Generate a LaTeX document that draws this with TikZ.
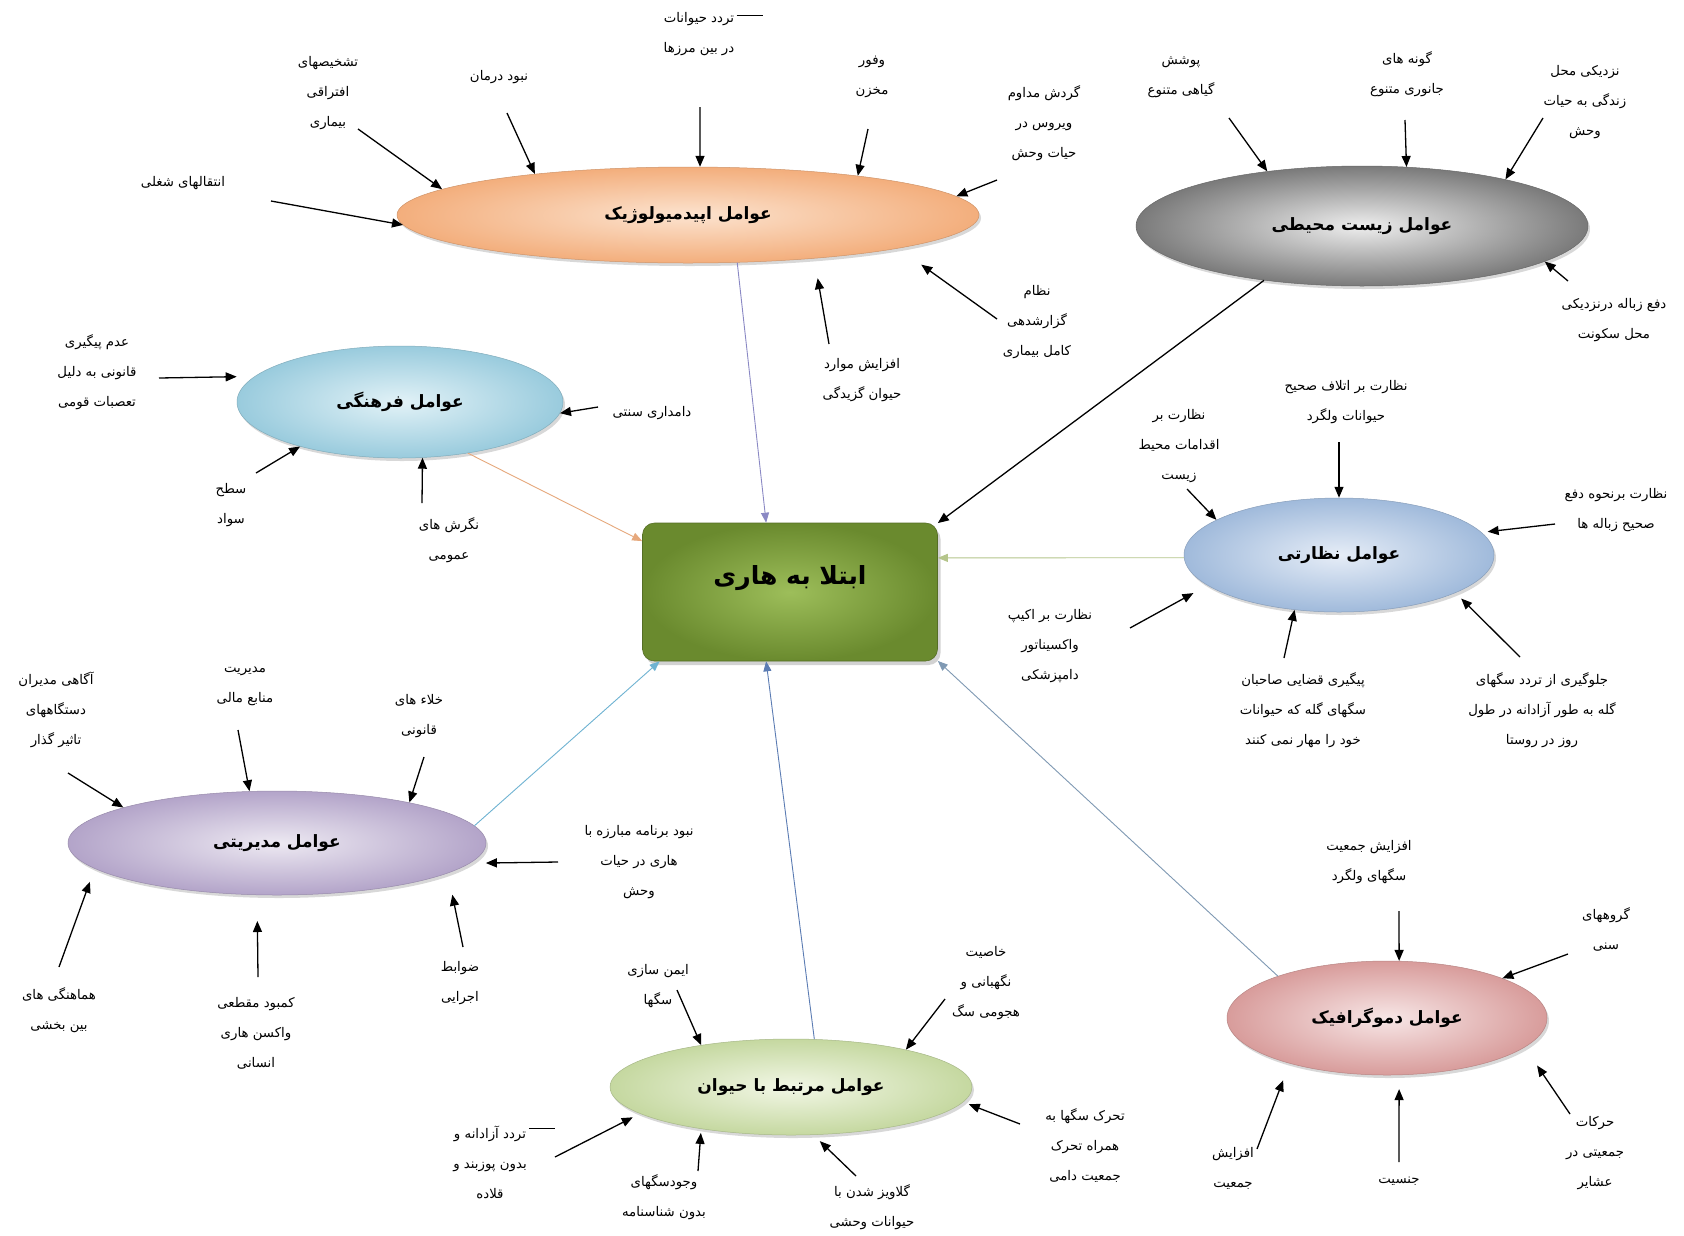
\documentclass[tikz,border=0pt]{standalone}
\usepackage{fontspec}
\usetikzlibrary{shapes.geometric,arrows.meta,shadows}
\newfontfamily\farsi[Script=Arabic]{DejaVu Sans}
\TeXXeTstate=1
\newcommand\fl[1]{\beginR #1\endR}
\definecolor{epiI}{HTML}{FCE3CF}\definecolor{epiO}{HTML}{F3AE7C}
\definecolor{envI}{HTML}{EEEEEE}\definecolor{envO}{HTML}{7A7A7A}
\definecolor{culI}{HTML}{E2F2F7}\definecolor{culO}{HTML}{99CBDD}
\definecolor{supI}{HTML}{E6EDF7}\definecolor{supO}{HTML}{A0BADB}
\definecolor{mgtI}{HTML}{EDE9F2}\definecolor{mgtO}{HTML}{B3A4C9}
\definecolor{aniI}{HTML}{F2F7E6}\definecolor{aniO}{HTML}{C5D8A0}
\definecolor{demI}{HTML}{F7E6E6}\definecolor{demO}{HTML}{D89C9B}
\definecolor{hubI}{HTML}{9DBE5A}\definecolor{hubO}{HTML}{6A8A2E}
\definecolor{lkEpi}{HTML}{8A88C4}\definecolor{lkCul}{HTML}{E6A87C}
\definecolor{lkSup}{HTML}{B5C58B}\definecolor{lkMgt}{HTML}{6FB3D2}
\definecolor{lkAni}{HTML}{5B7CB3}\definecolor{lkDem}{HTML}{7F99B3}
\begin{document}
\begin{tikzpicture}[x=1pt,y=-1pt,
  lbl/.style={font=\farsi\fontsize{13.3}{30}\selectfont, align=center, inner sep=1pt},
  ell/.style={ellipse, inner sep=0pt, line width=0.5pt, font=\farsi\bfseries\fontsize{17}{20}\selectfont,
     drop shadow={shadow xshift=2pt,shadow yshift=-3pt,opacity=0.3}},
  hubbox/.style={rectangle, rounded corners=12pt, minimum width=295pt, minimum height=138pt,
     inner color=hubI, outer color=hubO, draw=hubO!80!black, line width=0.6pt,
     font=\farsi\bfseries\fontsize{25}{30}\selectfont, text height=25pt, text depth=41pt,
     drop shadow={shadow xshift=3pt,shadow yshift=-4pt,opacity=0.35}},
  arr/.style={line width=1.3pt, -{Triangle[length=11pt,width=9pt]}},
  link/.style={line width=0.9pt, -{Triangle[length=10pt,width=8pt]}},
]
\useasboundingbox[fill=white] (0,0) rectangle (1684,1235);

% ---------------- central box
\node[hubbox] (hub) at (790,592) {\fl{ابتلا به هاری}};

% ---------------- factor ellipses
\node[ell, minimum width=582pt, minimum height=96pt, inner color=epiI, outer color=epiO, draw=epiO!85!black] (epi) at (688,215) {\fl{عوامل اپیدمیولوژیک}};
\node[ell, minimum width=452pt, minimum height=120pt, inner color=envI, outer color=envO, draw=envO!85!black] (env) at (1362,226) {\fl{عوامل زیست محیطی}};
\node[ell, minimum width=326pt, minimum height=112pt, inner color=culI, outer color=culO, draw=culO!85!black] (cul) at (400,402) {\fl{عوامل فرهنگی}};
\node[ell, minimum width=310pt, minimum height=114pt, inner color=supI, outer color=supO, draw=supO!85!black] (sup) at (1339,555) {\fl{عوامل نظارتی}};
\node[ell, minimum width=418pt, minimum height=104pt, inner color=mgtI, outer color=mgtO, draw=mgtO!85!black] (mgt) at (277,843) {\fl{عوامل مدیریتی}};
\node[ell, minimum width=362pt, minimum height=96pt, inner color=aniI, outer color=aniO, draw=aniO!85!black] (ani) at (791,1087) {\fl{عوامل مرتبط با حیوان}};
\node[ell, minimum width=320pt, minimum height=114pt, inner color=demI, outer color=demO, draw=demO!85!black] (dem) at (1387,1018) {\fl{عوامل دموگرافیک}};

% ---------------- links to the central box
\draw[link, lkEpi] (epi.316) -- (hub.109);
\draw[arr] (env.209) -- (hub.25);
\draw[link, lkCul] (cul.323) -- (hub.161.6);
\draw[link, lkSup] (sup.181) -- (hub.13);
\draw[link, lkMgt] (mgt.5) -- (hub.208);
\draw[link, lkAni] (ani.64) -- (hub.251);
\draw[link, lkDem] (dem.159) -- (hub.335);

% ---------------- epidemiological labels
\node[lbl] (te1) at (183,183) {\fl{انتقالهای شغلی}};
\node[lbl] (te2) at (328,93) {\fl{تشخیصهای}\\\fl{افتراقی}\\\fl{بیماری}};
\node[lbl] (te3) at (499,77) {\fl{نبود درمان}};
\node[lbl] (te4) at (699,34) {\fl{تردد حیوانات}\\\fl{در بین مرزها}};
\node[lbl] (te5) at (872,77) {\fl{وفور}\\\fl{مخزن}};
\node[lbl] (te6) at (1044,123) {\fl{گردش مداوم}\\\fl{ویروس در}\\\fl{حیات وحش}};
\node[lbl] (te7) at (862,380) {\fl{افزایش موارد}\\\fl{حیوان گزیدگی}};
\node[lbl] (te8) at (1037,322) {\fl{نظام}\\\fl{گزارشدهی}\\\fl{کامل بیماری}};
\draw[line width=0.8pt] ([xshift=1pt,yshift=-4pt]te4.north east) -- ++(26,0);
\coordinate (se1) at (271,201); \draw[arr] (se1) -- (epi.182);
\coordinate (se2) at (358,129); \draw[arr] (se2) -- (epi.174);
\coordinate (se3) at (507,113); \draw[arr] (se3) -- (epi.165);
\coordinate (se4) at (700,107); \draw[arr] (se4) -- (epi.76);
\coordinate (se5) at (868,129); \draw[arr] (se5) -- (epi.13);
\coordinate (se6) at (997,180); \draw[arr] (se6) -- (epi.4);
\coordinate (se7) at (829,344); \draw[arr, shorten >=20pt] (se7) -- (epi.341);
\coordinate (se8) at (997,319); \draw[arr, shorten >=28pt] (se8) -- (epi.351.5);

% ---------------- environmental labels
\node[lbl] (tv1) at (1181,77) {\fl{پوشش}\\\fl{گیاهی متنوع}};
\node[lbl] (tv2) at (1407,74) {\fl{گونه های}\\\fl{جانوری متنوع}};
\node[lbl] (tv3) at (1585,102) {\fl{نزدیکی محل}\\\fl{زندگی به حیات}\\\fl{وحش}};
\node[lbl] (tv4) at (1614,320) {\fl{دفع زباله درنزدیکی}\\\fl{محل سکونت}};
\coordinate (sv1) at (1229,118); \draw[arr] (sv1) -- (env.150.6);
\coordinate (sv2) at (1405,120); \draw[arr] (sv2) -- (env.53);
\coordinate (sv3) at (1543,118); \draw[arr] (sv3) -- (env.18.5);
\coordinate (sv4) at (1568,281); \draw[arr] (sv4) -- (env.349);

% ---------------- cultural labels
\node[lbl] (tc1) at (97,372) {\fl{عدم پیگیری}\\\fl{قانونی به دلیل}\\\fl{تعصبات قومی}};
\node[lbl] (tc2) at (652,413) {\fl{دامداری سنتی}};
\node[lbl] (tc3) at (231,505) {\fl{سطح}\\\fl{سواد}};
\node[lbl] (tc4) at (449,540) {\fl{نگرش های}\\\fl{عمومی}};
\coordinate (sc1) at (159,378); \draw[arr, shorten >=18pt] (sc1) -- (cul.170.7);
\coordinate (sc2) at (598,407); \draw[arr] (sc2) -- (cul.356);
\coordinate (sc3) at (256,473); \draw[arr] (sc3) -- (cul.204);
\coordinate (sc4) at (422,503); \draw[arr] (sc4) -- (cul.292);

% ---------------- supervisory labels
\node[lbl] (ts1) at (1179,446) {\fl{نظارت بر}\\\fl{اقدامات محیط}\\\fl{زیست}};
\node[lbl] (ts2) at (1346,402) {\fl{نظارت بر اتلاف صحیح}\\\fl{حیوانات ولگرد}};
\node[lbl] (ts3) at (1616,510) {\fl{نظارت برنحوه دفع}\\\fl{صحیح زباله ها}};
\node[lbl] (ts4) at (1050,646) {\fl{نظارت بر اکیپ}\\\fl{واکسیناتور}\\\fl{دامپزشکی}};
\node[lbl] (ts5) at (1303,710) {\fl{پیگیری قضایی صاحبان}\\\fl{سگهای گله که حیوانات}\\\fl{خود را مهار نمی کنند}};
\node[lbl] (ts6) at (1542,710) {\fl{جلوگیری از تردد سگهای}\\\fl{گله به طور آزادانه در طول}\\\fl{روز در روستا}};
\coordinate (ss1) at (1187,489); \draw[arr] (ss1) -- (sup.164);
\coordinate (ss2) at (1339,442); \draw[arr] (ss2) -- (sup.90);
\coordinate (ss3) at (1555,524); \draw[arr, shorten >=6pt] (ss3) -- (sup.9);
\coordinate (ss4) at (1130,628); \draw[arr, shorten >=16pt] (ss4) -- (sup.193);
\coordinate (ss5) at (1284,658); \draw[arr] (ss5) -- (sup.231);
\coordinate (ss6) at (1520,657); \draw[arr, shorten >=8pt] (ss6) -- (sup.342);

% ---------------- management labels
\node[lbl] (tm1) at (56,710) {\fl{آگاهی مدیران}\\\fl{دستگاههای}\\\fl{تاثیر گذار}};
\node[lbl] (tm2) at (245,686) {\fl{مدیریت}\\\fl{منابع مالی}};
\node[lbl] (tm3) at (419,716) {\fl{خلاء های}\\\fl{قانونی}};
\node[lbl] (tm4) at (639,862) {\fl{نبود برنامه مبارزه با}\\\fl{هاری در حیات}\\\fl{وحش}};
\node[lbl] (tm5) at (460,983) {\fl{ضوابط}\\\fl{اجرایی}};
\node[lbl] (tm6) at (256,1033) {\fl{کمبود مقطعی}\\\fl{واکسن هاری}\\\fl{انسانی}};
\node[lbl] (tm7) at (59,1010) {\fl{هماهنگی های}\\\fl{بین بخشی}};
\coordinate (sm1) at (68,773); \draw[arr] (sm1) -- (mgt.167);
\coordinate (sm2) at (238,730); \draw[arr] (sm2) -- (mgt.118);
\coordinate (sm3) at (424,757); \draw[arr] (sm3) -- (mgt.17);
\coordinate (sm4) at (558,862); \draw[arr, shorten >=16pt] (sm4) -- (mgt.354.4);
\coordinate (sm5) at (463,947); \draw[arr, shorten >=22pt] (sm5) -- (mgt.350);
\coordinate (sm6) at (258,977); \draw[arr, shorten >=26pt] (sm6) -- (mgt.249.5);
\coordinate (sm7) at (59,967); \draw[arr, shorten >=14pt] (sm7) -- (mgt.188);

% ---------------- animal labels
\node[lbl] (ta1) at (658,986) {\fl{ایمن سازی}\\\fl{سگها}};
\node[lbl] (ta2) at (986,983) {\fl{خاصیت}\\\fl{نگهبانی و}\\\fl{هجومی سگ}};
\node[lbl] (ta3) at (1085,1145) {\fl{تحرک سگها به}\\\fl{همراه تحرک}\\\fl{جمعیت دامی}};
\node[lbl] (ta4) at (872,1207) {\fl{گلاویز شدن با}\\\fl{حیوانات وحشی}};
\node[lbl] (ta5) at (664,1197) {\fl{وجودسگهای}\\\fl{بدون شناسنامه}};
\node[lbl] (ta6) at (490,1162) {\fl{تردد آزادانه و}\\\fl{بدون پوزبند و}\\\fl{قلاده}};
\draw[line width=0.8pt] ([xshift=1pt,yshift=-4pt]ta6.north east) -- ++(26,0);
\coordinate (sa1) at (677,990); \draw[arr] (sa1) -- (ani.155);
\coordinate (sa2) at (945,999); \draw[arr] (sa2) -- (ani.18.4);
\coordinate (sa3) at (1020,1124); \draw[arr, shorten >=6pt] (sa3) -- (ani.355);
\coordinate (sa4) at (856,1176); \draw[arr, shorten >=9pt] (sa4) -- (ani.295);
\coordinate (sa5) at (698,1171); \draw[arr, shorten >=4pt] (sa5) -- (ani.205);
\coordinate (sa6) at (555,1157); \draw[arr, shorten >=8pt] (sa6) -- (ani.190.6);

% ---------------- demographic labels
\node[lbl] (td1) at (1369,862) {\fl{افزایش جمعیت}\\\fl{سگهای ولگرد}};
\node[lbl] (td2) at (1606,929) {\fl{گروههای}\\\fl{سنی}};
\node[lbl] (td3) at (1595,1153) {\fl{حرکات}\\\fl{جمعیتی در}\\\fl{عشایر}};
\node[lbl] (td4) at (1399,1181) {\fl{جنسیت}};
\node[lbl] (td5) at (1233,1168) {\fl{افزایش}\\\fl{جمعیت}};
\coordinate (sd1) at (1399,911); \draw[arr] (sd1) -- (dem.78);
\coordinate (sd2) at (1568,954); \draw[arr] (sd2) -- (dem.19);
\coordinate (sd3) at (1570,1114); \draw[arr, shorten >=22pt] (sd3) -- (dem.348);
\coordinate (sd4) at (1399,1162); \draw[arr, shorten >=14pt] (sd4) -- (dem.282);
\coordinate (sd5) at (1257,1149); \draw[arr, shorten >=18pt] (sd5) -- (dem.205.4);
\end{tikzpicture}
\end{document}
